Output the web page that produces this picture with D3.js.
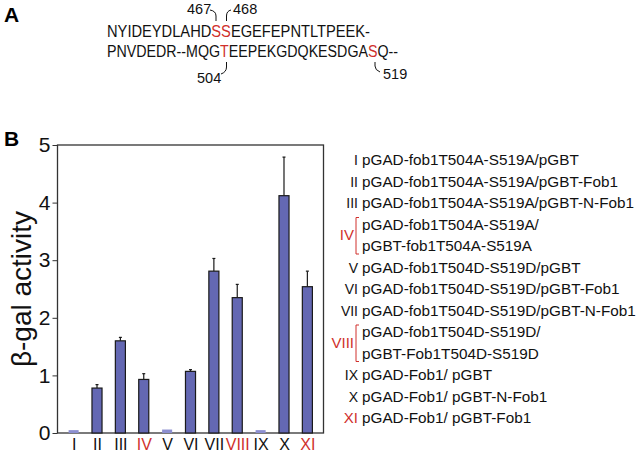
<!DOCTYPE html>
<html>
<head>
<meta charset="utf-8">
<script src="https://cdn.jsdelivr.net/npm/d3@7"></script>
<style>
  body { margin: 0; background: #fff; }
  svg { display: block; font-family: "Liberation Sans", Arial, sans-serif; }
</style>
</head>
<body>
<div id="vis"></div>
<script>
// values
var categories = ['I', 'II', 'III', 'IV', 'V', 'VI', 'VII', 'VIII', 'IX', 'X', 'XI'];
var activity = [0.05, 0.78, 1.60, 0.93, 0.06, 1.07, 2.81, 2.35, 0.05, 4.12, 2.54];
var errors = [0, 0.06, 0.06, 0.10, 0, 0.03, 0.22, 0.23, 0, 0.67, 0.27];
var redLabels = ['IV', 'VIII', 'XI'];
var yTicks = [0, 1, 2, 3, 4, 5];
var constructs = [
    ['pGAD-fob1T504A-S519A/pGBT'],
    ['pGAD-fob1T504A-S519A/pGBT-Fob1'],
    ['pGAD-fob1T504A-S519A/pGBT-N-Fob1'],
    ['pGAD-fob1T504A-S519A/', 'pGBT-fob1T504A-S519A'],
    ['pGAD-fob1T504D-S519D/pGBT'],
    ['pGAD-fob1T504D-S519D/pGBT-Fob1'],
    ['pGAD-fob1T504D-S519D/pGBT-N-Fob1'],
    ['pGAD-fob1T504D-S519D/', 'pGBT-Fob1T504D-S519D'],
    ['pGAD-Fob1/ pGBT'],
    ['pGAD-Fob1/ pGBT-N-Fob1'],
    ['pGAD-Fob1/ pGBT-Fob1']
];
// sequence pieces, red ones are the phospho sites
var seqLine1 = [['NYIDEYDLAHD', 0], ['SS', 1], ['EGEFEPNTLTPEEK-', 0]];
var seqLine2 = [['PNVDEDR--MQG', 0], ['T', 1], ['EEPEKGDQKESDGA', 0], ['S', 1], ['Q--', 0]];

var width = 642, height = 455;
var red = '#d0302c', barFill = '#6468b3', ink = '#1a1a1a';
var plot = {left: 57.5, right: 323.5, top: 145, bottom: 433};

var svg = d3.select('#vis').append('svg')
    .attr('width', width)
    .attr('height', height);

// ---- panel A ----
svg.append('text').attr('x', 4).attr('y', 22)
    .attr('font-size', 21).attr('font-weight', 'bold').text('A');

var drawSeq = function(parts, y, len) {
    var t = svg.append('text')
        .attr('x', 107).attr('y', y)
        .attr('font-size', 16)
        .attr('textLength', len)
        .attr('lengthAdjust', 'spacingAndGlyphs');
    t.selectAll('tspan').data(parts).enter().append('tspan')
        .attr('fill', function(d) { return d[1] ? red : '#111'; })
        .text(function(d) { return d[0]; });
};
drawSeq(seqLine1, 37, 263);
drawSeq(seqLine2, 57, 291);

var ann = svg.append('g').attr('font-size', 14.5).attr('fill', '#111');
ann.append('text').attr('x', 187).attr('y', 14).text('467');
ann.append('text').attr('x', 233).attr('y', 14).text('468');
ann.append('text').attr('x', 197).attr('y', 83).text('504');
ann.append('text').attr('x', 383).attr('y', 79).text('519');
var hooks = [
    'M210,10 Q216,11 216,16 L216,21',
    'M231,10 Q226.5,11 226.5,16 L226.5,21',
    'M226.5,62 L226.5,67 Q226.5,72 221,74',
    'M375,62 L375,66 Q375,70 380,72'
];
svg.selectAll('path.hook').data(hooks).enter().append('path')
    .attr('class', 'hook')
    .attr('d', function(d) { return d; })
    .attr('fill', 'none').attr('stroke', '#111').attr('stroke-width', 1);

// ---- panel B ----
svg.append('text').attr('x', 4).attr('y', 146)
    .attr('font-size', 21).attr('font-weight', 'bold').text('B');

var xScale = d3.scalePoint()
    .domain(categories)
    .range([plot.left, plot.right])
    .padding(0.69);
var barW = xScale.step() * 0.43;

var yScale = d3.scaleLinear()
    .domain([0, 5])
    .range([plot.bottom, plot.top]);

var rows = categories.map(function(c, i) {
    return {cat: c, val: activity[i], err: errors[i]};
});

// frame
svg.append('rect')
    .attr('x', plot.left).attr('y', plot.top)
    .attr('width', plot.right - plot.left).attr('height', plot.bottom - plot.top)
    .attr('fill', 'none').attr('stroke', '#333').attr('stroke-width', 1.3);

// error bars first, then bars on top
var eb = svg.append('g').attr('stroke', ink).attr('stroke-width', 1.2);
rows.filter(function(d) { return d.err > 0; }).forEach(function(d) {
    var cx = xScale(d.cat);
    eb.append('line').attr('x1', cx).attr('x2', cx)
        .attr('y1', yScale(d.val)).attr('y2', yScale(d.val + d.err));
    eb.append('line').attr('x1', cx - 1.5).attr('x2', cx + 1.5)
        .attr('y1', yScale(d.val + d.err)).attr('y2', yScale(d.val + d.err));
});

svg.append('g').selectAll('rect').data(rows).enter().append('rect')
    .attr('x', function(d) { return xScale(d.cat) - barW / 2; })
    .attr('y', function(d) { return yScale(d.val); })
    .attr('width', barW)
    .attr('height', function(d) { return yScale(0) - yScale(d.val); })
    .attr('fill', function(d) { return d.val < 0.1 ? '#8c8fd0' : barFill; })
    .attr('stroke', function(d) { return d.val < 0.1 ? 'none' : ink; })
    .attr('stroke-width', 1.2);

// y axis
var yAxis = d3.axisLeft(yScale).tickValues(yTicks).tickSize(5).tickPadding(2)
    .tickFormat(d3.format('d'));
var yG = svg.append('g')
    .attr('transform', 'translate(' + plot.left + ',0)')
    .call(yAxis);
yG.select('.domain').remove();
yG.selectAll('line').attr('stroke', '#333');
yG.selectAll('text').attr('font-size', 21).attr('fill', '#111')
    .attr('font-family', '"Liberation Sans", Arial, sans-serif');

svg.append('text')
    .attr('transform', 'translate(31,' + ((plot.top + plot.bottom) / 2) + ') rotate(-90)')
    .attr('text-anchor', 'middle')
    .attr('font-size', 28)
    .attr('fill', '#111')
    .text('β-gal activity');

// x labels
var xAxis = d3.axisBottom(xScale).tickSize(0).tickPadding(6);
var xG = svg.append('g')
    .attr('transform', 'translate(0,' + plot.bottom + ')')
    .call(xAxis);
xG.select('.domain').remove();
xG.selectAll('text')
    .attr('font-size', 16)
    .attr('font-family', '"Liberation Sans", Arial, sans-serif')
    .attr('fill', function(d) { return redLabels.indexOf(d) >= 0 ? red : '#111'; });

// ---- construct list ----
var lineStep = 21.5, lineY = 165;
var leg = svg.append('g');
constructs.forEach(function(lines, i) {
    var cat = categories[i];
    var isRed = redLabels.indexOf(cat) >= 0;
    var y0 = lineY;
    var g = leg.append('g');
    lines.forEach(function(s, k) {
        g.append('text').attr('x', 362).attr('y', y0 + k * lineStep)
            .attr('font-size', 15.3).attr('fill', '#111').text(s);
    });
    var midY = y0 + (lines.length - 1) * lineStep / 2;
    var numRight = lines.length > 1 ? 354 : 358;
    g.append('text').attr('x', numRight).attr('y', midY)
        .attr('text-anchor', 'end')
        .attr('font-size', isRed ? 15 : 14)
        .attr('fill', isRed ? red : '#111')
        .text(cat);
    if (lines.length > 1) {
        var top = y0 - 12, bot = y0 + (lines.length - 1) * lineStep + 3;
        g.append('path')
            .attr('d', 'M359,' + top + ' L356,' + top + ' L356,' + bot + ' L359,' + bot)
            .attr('fill', 'none').attr('stroke', red).attr('stroke-width', 1);
    }
    lineY += lines.length * lineStep;
});
</script>
</body>
</html>
